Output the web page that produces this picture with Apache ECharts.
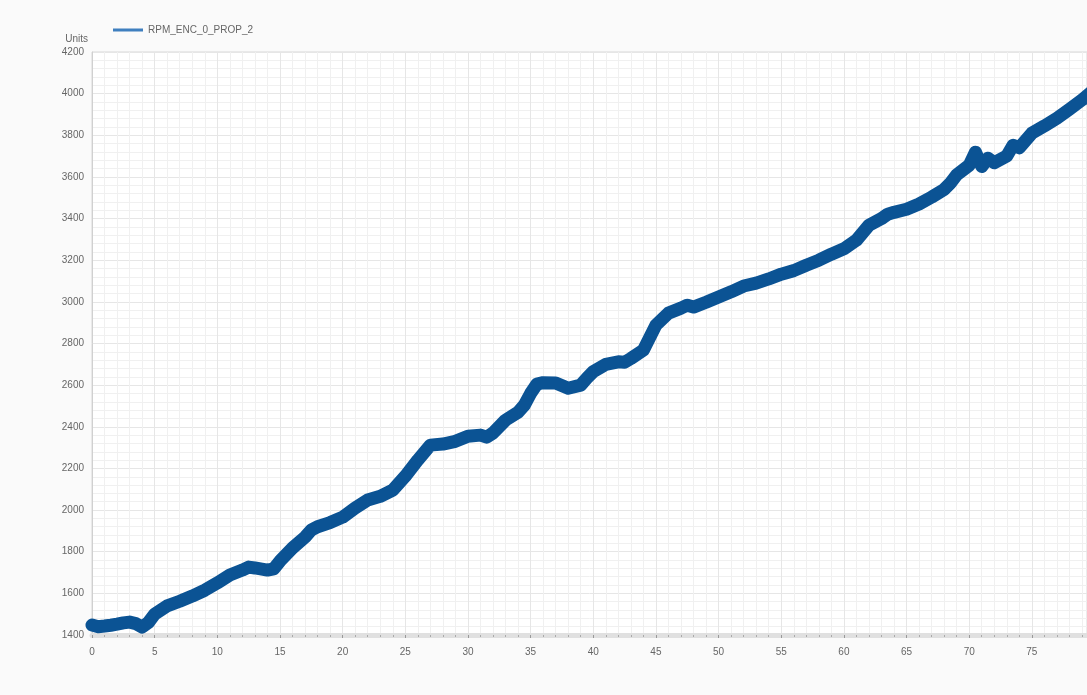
<!DOCTYPE html>
<html>
<head>
<meta charset="utf-8">
<script src="https://cdn.jsdelivr.net/npm/echarts@6/dist/echarts.min.js"></script>
<style>html,body{margin:0;padding:0;background:#fafafa;}#c{width:1087px;height:695px;}</style>
</head>
<body>
<div id="c"></div>
<script>
var seriesName = 'RPM_ENC_0_PROP_2';
var yAxisName = 'Units';
var timeValues = [0,0.5,1,1.5,2,2.5,3,3.5,4,4.5,5,6,7,8,9,10,11,12,12.5,13,14,14.5,15,16,17,17.5,18,19,20,21,22,23,24,25,26,27,28,29,30,31,31.5,32,33,34,34.5,35,35.5,36,37,38,39,39.5,40,41,42,42.5,43,44,45,46,47,47.5,48,49,50,51,52,53,54,55,56,57,58,59,60,61,62,63,63.5,64,65,66,67,68,68.5,69,70,70.5,71,71.5,72,73,73.5,74,75,76,77,78,79,80];
var rpmValues = [1448,1440,1443,1447,1452,1458,1462,1455,1438,1460,1500,1540,1562,1587,1615,1650,1688,1712,1726,1722,1712,1718,1755,1818,1870,1904,1920,1940,1966,2010,2048,2066,2096,2163,2240,2312,2317,2330,2355,2360,2350,2370,2432,2470,2504,2560,2605,2612,2610,2585,2600,2634,2665,2700,2712,2710,2728,2768,2888,2946,2970,2984,2975,2998,3023,3048,3076,3090,3110,3133,3150,3176,3200,3229,3255,3296,3368,3400,3421,3430,3445,3470,3503,3540,3570,3610,3656,3719,3650,3690,3668,3700,3752,3740,3810,3845,3882,3925,3970,4020];
var yTicks = [1400,1600,1800,2000,2200,2400,2600,2800,3000,3200,3400,3600,3800,4000,4200];
var xMin = 0, xMax = 79.4;
var data = timeValues.map(function(t,i){return [t, rpmValues[i]];});
var chart = echarts.init(document.getElementById('c'));
chart.setOption({
  backgroundColor:'#fafafa',
  animation:false,
  legend:{left:108,top:20,icon:'rect',itemWidth:30,itemHeight:3,itemGap:8,
    textStyle:{color:'#666',fontSize:10,fontFamily:'Liberation Sans'},data:[seriesName]},
  grid:{left:92,top:52,right:0,bottom:60,outerBoundsMode:'none',containLabel:false,show:true,backgroundColor:'#ffffff',borderColor:'#d8d8d8',borderWidth:1},
  xAxis:{type:'value',min:xMin,max:xMax,interval:5,
    axisLine:{show:true,lineStyle:{color:'#e0e0e0',width:5}},
    axisTick:{show:true,length:3,lineStyle:{color:'#999'}},
    minorTick:{show:true,splitNumber:5,length:2,lineStyle:{color:'#aaa'}},
    axisLabel:{color:'#666',fontSize:10,margin:12,fontFamily:'Liberation Sans',showMaxLabel:false},
    splitLine:{show:true,lineStyle:{color:'#e6e6e6',width:1}},
    minorSplitLine:{show:true,lineStyle:{color:'#f0f0f0',width:1}}},
  yAxis:{type:'value',min:1400,max:4200,interval:200,name:yAxisName,
    nameLocation:'end',nameGap:8,nameTextStyle:{color:'#666',fontSize:10,align:'right',padding:[0,4,0,0]},
    axisLine:{show:true,lineStyle:{color:'#d0d0d0'}},
    axisTick:{show:false},
    axisLabel:{color:'#666',fontSize:10,margin:8,fontFamily:'Liberation Sans',
      formatter:function(v){return yTicks.indexOf(v)>=0?String(v):'';}},
    splitLine:{show:true,lineStyle:{color:'#e6e6e6',width:1}},
    minorSplitLine:{show:true,lineStyle:{color:'#f0f0f0',width:1}},
    minorTick:{show:false,splitNumber:5}},
  series:[{name:seriesName,type:'line',data:data,showSymbol:false,smooth:false,clip:true,
    lineStyle:{color:'#0b5394',width:13,join:'round',cap:'round'},itemStyle:{color:'#3f7fbf'}}]
});
</script>
</body>
</html>
